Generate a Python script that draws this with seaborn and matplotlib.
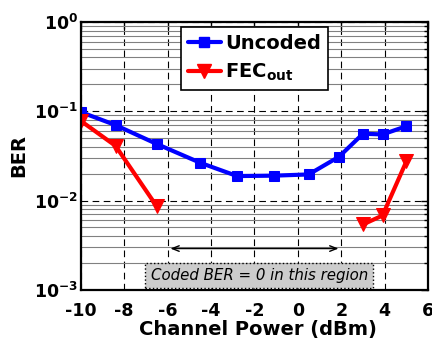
import numpy as np
import pandas as pd
import seaborn as sns
import matplotlib
matplotlib.use('Agg')
import matplotlib.pyplot as plt
from matplotlib.ticker import LogLocator, NullFormatter
from matplotlib.lines import Line2D

# Data
uncoded_x = [-10, -8.4, -6.5, -4.5, -2.8, -1.1, 0.5, 1.9, 3.0, 3.9, 5.0]
uncoded_ber = [0.098, 0.070, 0.043, 0.0265, 0.0188, 0.019, 0.0196, 0.031, 0.056, 0.055, 0.068]

# FEC output: zero BER between about -6 and 2 dBm, so two separate pieces
fec_low_x = [-10, -8.4, -6.5]
fec_low_ber = [0.078, 0.041, 0.0086]
fec_high_x = [3.0, 3.9, 5.0]
fec_high_ber = [0.0054, 0.0068, 0.0275]

sns.set_style('white')
plt.rcParams['font.family'] = ['DejaVu Sans']
plt.rcParams['font.weight'] = 'bold'
plt.rcParams['mathtext.fontset'] = 'dejavusans'
plt.rcParams['mathtext.default'] = 'bf'
for k in ['text.color', 'axes.labelcolor', 'xtick.color', 'ytick.color']:
    plt.rcParams[k] = 'black'

fig = plt.figure(figsize=(4.32, 3.43), dpi=100)
ax = fig.add_axes([0.187, 0.155, 0.804, 0.781])

unc = pd.DataFrame({'x': uncoded_x, 'ber': uncoded_ber})
sns.lineplot(data=unc, x='x', y='ber', ax=ax, color='#0000ff', lw=3,
             marker='s', markersize=7, markeredgecolor='#0000ff', sort=False)
for xs, ys in [(fec_low_x, fec_low_ber), (fec_high_x, fec_high_ber)]:
    seg = pd.DataFrame({'x': xs, 'ber': ys})
    sns.lineplot(data=seg, x='x', y='ber', ax=ax, color='#ff0000', lw=3,
                 marker='v', markersize=10, markeredgecolor='#ff0000', sort=False)

ax.set_yscale('log')
ax.set_xlim(-10, 6)
ax.set_ylim(1e-3, 1)
ax.set_xticks(np.arange(-10, 7, 2))
ax.set_xticklabels([str(v) for v in range(-10, 7, 2)])
ax.set_yticks([1e-3, 1e-2, 1e-1, 1])
ax.set_yticklabels([r'$10^{-3}$', r'$10^{-2}$', r'$10^{-1}$', r'$10^{0}$'])
ax.yaxis.set_minor_locator(LogLocator(base=10, subs=np.arange(2, 10)))
ax.yaxis.set_minor_formatter(NullFormatter())

ax.grid(True, which='major', color='black', ls=(0, (6, 4)), lw=0.8)
ax.grid(True, which='minor', axis='y', color='#808080', ls='-', lw=0.8)
ax.set_axisbelow(True)

ax.tick_params(which='both', direction='in', top=True, right=True,
               labelsize=12.5, width=1, colors='black')
ax.tick_params(which='major', length=5)
ax.tick_params(which='minor', length=3)
ax.tick_params(axis='x', pad=9)
ax.tick_params(axis='y', pad=2)
for s in ax.spines.values():
    s.set_linewidth(1.6)
    s.set_color('black')

ax.set_xlabel('Channel Power (dBm)', fontsize=14, fontweight='bold', color='black')
ax.set_ylabel('BER', fontsize=14, fontweight='bold', color='black')
ax.xaxis.set_label_coords(0.51, -0.113)
ax.yaxis.set_label_coords(-0.152, 0.5)

ax.annotate('', xy=(2, 0.0029), xytext=(-6, 0.0029),
            arrowprops=dict(arrowstyle='<->,head_length=0.5,head_width=0.2',
                            lw=1, color='black'))
ax.text(-1.78, 0.00145, 'Coded BER = 0 in this region', style='italic',
        fontweight='normal', fontsize=10.8, ha='center', va='center',
        color='black',
        bbox=dict(boxstyle='square,pad=0.35', fc='#cccccc', ec='black',
                  ls=':', lw=1))

handles = [Line2D([], [], color='#0000ff', lw=3, marker='s', markersize=7),
           Line2D([], [], color='#ff0000', lw=3, marker='v', markersize=10)]
leg = ax.legend(handles, ['Uncoded', r'FEC$_{out}$'], loc='upper center',
                bbox_to_anchor=(0.5, 0.98), borderaxespad=0, fancybox=False,
                framealpha=1, edgecolor='black',
                prop={'weight': 'bold', 'size': 14},
                handlelength=1.7, handletextpad=0.25, borderpad=0.35,
                labelspacing=0.45)
leg.get_frame().set_linewidth(1.2)
for t in leg.get_texts():
    t.set_color('black')

fig.savefig('out.png', dpi=100)
